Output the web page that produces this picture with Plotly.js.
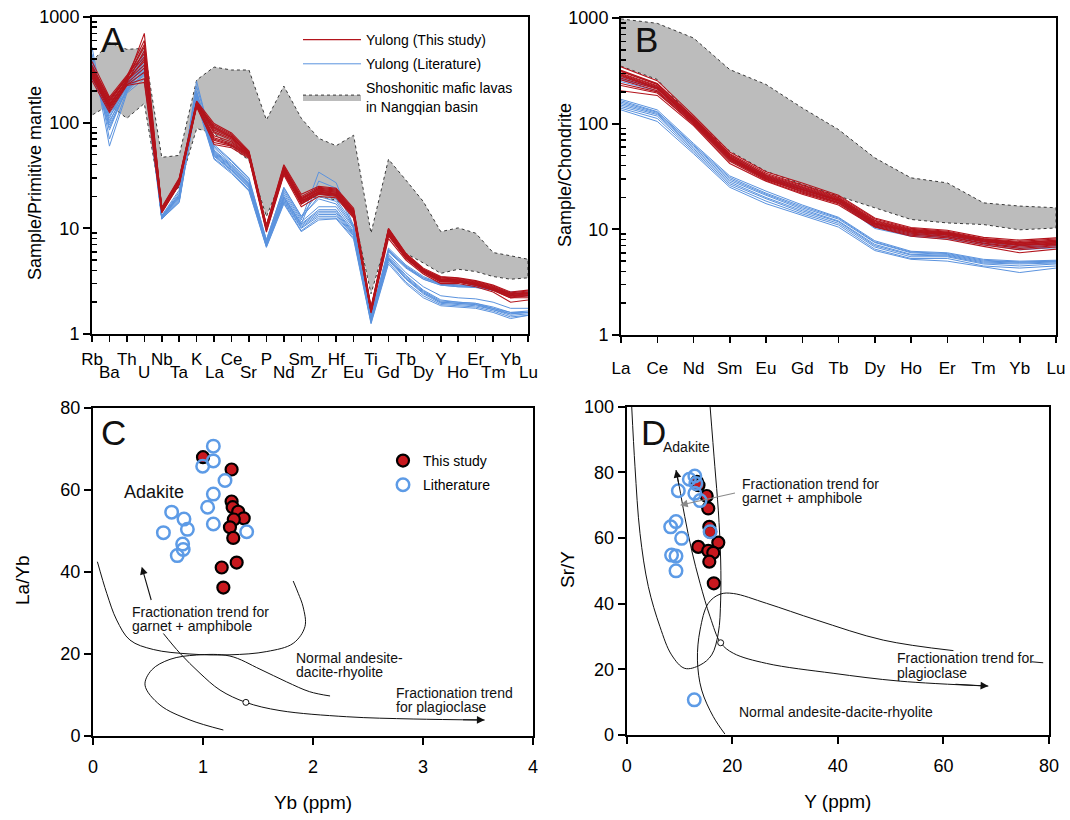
<!DOCTYPE html>
<html><head><meta charset="utf-8">
<script src="https://cdn.plot.ly/plotly-3.0.1.min.js"></script>
<style>html,body{margin:0;padding:0;background:#fff}#chart{width:1070px;height:820px}</style>
</head><body><div id="chart"></div>
<script>
// ---------- Panel A: primitive-mantle normalised spider diagram ----------
const spiderElems = ['Rb','Ba','Th','U','Nb','Ta','K','La','Ce','Sr','P','Nd','Sm','Zr','Hf','Eu','Ti','Gd','Tb','Dy','Y','Ho','Er','Tm','Yb','Lu'];

const spiderThisStudy = [
  [310,150,250,700,15.0,28,150,95,78,52,10.5,38,19,23,22,14.5,1.75,9.8,5.7,4.1,3.4,3.3,3.1,2.8,2.4,2.5],
  [290,140,240,480,14.5,27,148,90,74,50,10.0,36,18,22,21,14.0,1.70,9.4,5.5,4.0,3.3,3.2,3.0,2.7,2.3,2.4],
  [330,160,270,420,15.5,29,155,85,72,51,10.2,37,19,24,23,14.8,1.72,9.6,5.6,4.0,3.3,3.2,3.0,2.7,2.4,2.4],
  [270,130,230,260,14.0,26,140,65,60,47,9.5,33,17,21,20,13.0,1.60,8.5,5.2,3.8,3.1,3.1,2.9,2.6,2.2,2.2],
  [380,175,280,450,15.8,30,160,98,80,54,10.8,40,21,25,24,15.5,1.80,10.0,5.8,4.2,3.5,3.4,3.2,2.9,2.5,2.6],
  [300,145,255,380,15.0,28,152,70,62,49,9.8,34,17.5,22,21,13.5,1.65,8.8,5.3,3.9,3.2,3.1,2.95,2.65,2.3,2.3],
  [250,125,225,240,14.2,26.5,145,62,58,46,9.2,32,16,20,19.5,12.5,1.58,8.0,5.0,3.7,3.0,3.0,2.8,2.5,2.0,2.1],
  [320,155,265,520,15.2,28.5,150,88,73,52,10.3,37,19.5,23.5,22.5,14.3,1.73,9.5,5.5,4.0,3.35,3.25,3.05,2.75,2.35,2.45],
  [350,165,275,600,15.6,29.5,158,92,76,53,10.6,39,20,24.5,23.5,15.0,1.78,9.9,5.7,4.1,3.45,3.35,3.15,2.85,2.45,2.55],
  [280,135,235,330,14.4,27,143,68,61,48,9.6,33.5,17,21.5,20.5,13.2,1.62,8.6,5.2,3.85,3.15,3.1,2.9,2.6,2.25,2.3],
  [300,150,245,400,14.8,27.5,148,80,68,50,10,35.5,18,22.5,21.5,13.8,1.68,9.1,5.4,3.95,3.25,3.2,3.0,2.7,2.3,2.35],
  [265,140,228,300,14.3,26,146,75,66,49,9.7,34,17.5,21,20.5,13.0,1.63,8.9,5.3,3.9,3.2,3.15,2.95,2.6,2.2,2.3],
  [340,170,260,550,15.4,29,154,82,70,51,10.4,36.5,18.5,23,22,14.2,1.71,9.3,5.5,4.0,3.3,3.2,3.05,2.75,2.4,2.45],
  [290,145,250,350,14.9,28,150,72,64,49.5,9.9,35,18,22,21,13.6,1.66,8.9,5.3,3.9,3.2,3.1,2.9,2.65,2.3,2.4]
];

const spiderLiterature = [
  [520,70,200,300,12.5,20,246,55,40,27,7.5,22,12,34,27,10.5,1.45,6.3,4.4,3.4,3.0,2.9,2.9,2.7,2.4,2.4],
  [450,60,190,260,12.2,18,200,52,38,26,7.0,20,11,28,24,10.0,1.40,6.0,4.2,3.3,2.9,2.8,2.8,2.6,2.3,2.3],
  [400,100,230,350,13.0,22,220,60,43,29,7.8,24,13,22,19,10.8,1.48,6.5,4.5,3.5,3.0,2.9,2.85,2.65,2.5,2.5],
  [380,90,210,280,12.8,21,190,58,41,28,7.3,23,12.5,20,18,10.3,1.42,6.1,4.3,3.3,2.9,2.8,2.75,2.6,2.35,2.3],
  [350,110,240,320,13.2,23,180,62,44,30,7.7,24.5,13,19,17,10.0,1.46,6.2,4.3,3.4,2.95,2.85,2.8,2.6,2.4,2.4],
  [300,120,215,380,12.6,19,170,50,36,25,6.9,19,10.5,14,14,8.8,1.35,5.2,3.4,2.5,2.0,1.95,1.9,1.75,1.55,1.6],
  [280,125,220,420,12.4,18,165,48,35,24,6.8,18,10,13,13,8.5,1.32,5.0,3.3,2.4,1.95,1.9,1.85,1.7,1.5,1.55],
  [330,95,205,360,12.9,20,175,53,38,26,7.2,20,11,15,15,9.2,1.38,5.5,3.6,2.6,2.1,2.0,1.95,1.8,1.6,1.65],
  [260,130,225,450,12.3,17.5,160,46,34,23,6.7,17.5,9.5,12.5,12.5,8.2,1.28,4.8,3.1,2.3,1.9,1.85,1.8,1.65,1.45,1.5],
  [310,115,200,330,12.7,19.5,168,49,35.5,24.5,7.0,18.5,10.2,13.5,13.5,8.6,1.33,5.1,3.35,2.45,2.0,1.95,1.9,1.7,1.55,1.6],
  [290,105,195,290,13.1,21,185,51,37,25.5,7.1,19.5,10.8,14.5,14.5,9.0,1.36,5.3,3.5,2.55,2.05,2.0,1.95,1.75,1.6,1.6],
  [270,140,235,480,12.5,18.5,155,45,33,22.5,6.6,17,9.3,12,12.3,7.9,1.25,4.6,3.0,2.2,1.85,1.8,1.75,1.6,1.4,1.5],
  [340,85,215,310,12.8,20.5,178,54,39,26.5,7.3,21,11.5,16,16,9.5,1.40,5.7,3.8,2.8,2.3,2.2,2.15,2.0,1.75,1.75]
];

// Shoshonitic mafic lavas envelope (upper / lower)
const spiderFieldUpper = [378,572,494,505,47,49,253,336,315,315,106,222,110,71,60.5,76,9.0,45,28.6,17.9,9.3,10.1,9.0,5.9,5.5,5.1];
const spiderFieldLower = [118,147,110,152,16,24.7,88,79,59,44,12.9,33,18.5,20,18.5,13.9,2.4,9,5.8,4.7,3.75,4.1,3.9,3.5,3.3,3.4];

// ---------- Panel B: chondrite-normalised REE ----------
const reeElems = ['La','Ce','Nd','Sm','Eu','Gd','Tb','Dy','Ho','Er','Tm','Yb','Lu'];

const reeThisStudy = [
  [345,255,120,54,35,27.5,21,12.8,10.4,9.8,8.4,7.9,8.3],
  [310,235,112,50,33,26,20,12.2,10,9.4,8.1,7.5,7.9],
  [300,228,110,49,32,25,19.5,11.8,9.8,9.2,8,7.4,7.7],
  [290,220,108,48,31,24,19,11.5,9.6,9,7.8,7.2,7.5],
  [280,215,105,47,30,23.5,18.5,11.2,9.4,8.8,7.6,7.0,7.3],
  [260,205,102,46,29.5,23,18,11,9.2,8.6,7.4,6.8,7.1],
  [240,200,98,44,29,22,17.5,10.6,8.8,8.3,7.1,6.4,6.8],
  [205,185,96,42,28.5,21.5,17,10.5,8.6,8.0,6.9,6.0,6.5],
  [230,195,100,45,30,22.5,17.8,10.8,9.0,8.5,7.3,6.6,7.0],
  [320,240,115,52,34,26.5,20.5,12.5,10.2,9.6,8.2,7.7,8.1],
  [295,225,109,48.5,31.5,24.5,19.2,11.6,9.7,9.1,7.9,7.3,7.6],
  [270,212,104,47,30.5,24,18.8,11.3,9.5,8.9,7.7,7.1,7.4],
  [285,218,106,47.5,31,23.8,18.6,11.4,9.5,8.9,7.7,7.1,7.2],
  [315,238,114,51,32.5,25.5,19.8,12.0,9.9,9.3,8.0,7.5,7.8]
];

const reeLiterature = [
  [275,222,112,49,32,25,19,11,9.2,8.8,7.8,7.0,7.2],
  [260,215,108,47,31,24,18.5,10.5,8.8,8.4,7.4,6.6,6.8],
  [250,205,103,45,30,23,18,10.2,8.6,8.1,7.2,6.4,6.7],
  [265,218,110,48,31.5,24.5,18.8,10.8,9.0,8.6,7.6,6.8,7.0],
  [170,135,65,32,23,17,13,7.8,6.2,6.0,5.2,5.0,5.1],
  [160,128,62,30,21.5,16,12.5,7.5,6.0,5.8,5.0,4.9,5.0],
  [155,125,60,29,21,15.5,12,7.2,5.8,5.7,4.9,4.8,4.9],
  [150,122,58,28,20,15,11.8,7.0,5.7,5.6,4.8,4.7,4.8],
  [145,118,56,27,19.5,14.5,11.4,6.8,5.5,5.5,4.7,4.5,4.7],
  [140,112,54,26,18.5,14,11,6.5,5.3,5.3,4.5,4.3,4.5],
  [135,105,52,25,17.5,13.5,10.5,6.3,5.2,5.0,4.4,3.9,4.3],
  [165,130,63,31,22,16.5,12.8,7.6,6.1,5.9,5.1,4.9,5.0]
];

const reeFieldUpper = [980,890,647,325,235,141,88,47.5,30.7,27.5,17.8,16.6,16];
const reeFieldLower = [350,262,110,55,35.5,26.6,20.6,16,12.4,11.5,11.1,9.9,10.3];

// ---------- Panel C: La/Yb vs Yb ----------
const cStudyYb   = [1.0,1.26,1.26,1.27,1.32,1.37,1.28,1.245,1.275,1.306,1.17,1.185];
const cStudyLaYb = [68.0,65.0,57.2,55.8,54.7,53.1,52.8,50.9,48.3,42.3,41.1,36.2];
const cLitYb     = [1.094,1.094,0.997,1.2,1.094,1.042,0.715,0.827,0.858,1.094,1.397,0.64,0.815,0.82,0.766];
const cLitLaYb   = [70.7,67.1,65.8,62.3,59.0,55.8,54.6,52.9,50.4,51.7,49.8,49.6,46.8,45.5,44.0];

const cAdakiteX = [0.04,0.125,0.215,0.336,0.548,0.882,1.245,1.58,1.82,1.927,1.91,1.866,1.82];
const cAdakiteY = [42.5,34.8,28.3,23.4,21.1,20.0,19.8,20.6,22.6,26.7,31.5,34.8,37.8];
const cNormalX  = [1.185,0.882,0.609,0.473,0.533,0.7,0.942,1.245,1.518,1.76,1.97,2.155];
const cNormalY  = [1.46,3.9,7.56,12.4,16.1,18.7,19.75,19.5,16.3,13.2,10.8,9.76];
const cTrendX   = [0.64,0.79,0.973,1.155,1.39,1.7,2.306,2.91,3.56];
const cTrendY   = [25.0,20.2,15.3,11.2,8.2,6.2,4.7,4.15,3.9];
const cOrigin   = [1.39, 8.2];

// ---------- Panel D: Sr/Y vs Y ----------
const dStudyY   = [13.3,13.6,15.15,15.45,15.65,15.8,13.56,17.35,15.45,16.4,15.65,16.5];
const dStudySrY = [77.1,76.1,72.8,69.0,63.4,61.9,57.3,58.6,56.1,55.5,52.8,46.2];
const dLitY     = [12.9,11.86,13.1,12.9,9.78,13.9,9.34,8.33,10.4,15.8,8.5,9.34,9.34,12.8];
const dLitSrY   = [78.9,77.9,76.6,73.6,74.4,71.4,65.0,63.4,59.9,61.9,54.8,54.5,50.0,10.7];

const dAdakiteX = [0.95,1.57,2.52,4.1,6.3,8.5,11.0,13.9,16.1,17.35,17.8,17.8,17.35,16.7,15.8];
const dAdakiteY = [100,81.7,61.4,45.2,33.0,24.4,20.3,21.3,24.4,31.0,41.1,53.3,68.5,81.7,100];
const dNormalX  = [18.6,16.4,14.2,13.4,13.9,15.45,17.7,20.2,26.5,36.0,48.6,61.9];
const dNormalY  = [0.3,5.6,13.7,22.8,32.0,40.1,42.9,43.1,40.1,35.0,28.9,25.7];
const dNormalTailX = [76.7,78.9];
const dNormalTailY = [22.3,22.0];
const dTrendX   = [9.34,9.97,11.0,12.3,13.9,15.8,17.8,20.2,26.5,39.1,51.8,68.5];
const dTrendY   = [80.7,75.6,66.5,56.3,46.2,36.0,28.1,24.9,21.8,18.8,16.4,14.9];
const dOrigin   = [17.8, 28.1];

// ---------- styling ----------
const FONT = 'Liberation Sans, Arial, Helvetica, sans-serif';
const RED = '#b3141c';
const BLUE = '#5b93de';
const GREY = '#bcbcbc';
const DOT_RED = '#c8181e';
const RING_BLUE = '#5d9be6';

const traces = [];

function spiderTraces(elems, study, lit, upper, lower, xa, ya, withLegend) {
  const idx = elems.map((_, i) => i);
  traces.push({
    x: idx.concat(idx.slice().reverse()),
    y: upper.concat(lower.slice().reverse()),
    xaxis: xa, yaxis: ya, mode: 'lines', fill: 'toself', fillcolor: GREY,
    line: {color: '#3a3a3a', width: 1, dash: 'dot'},
    name: 'Shoshonitic mafic lavas<br>in Nangqian basin', legendgroup: 'field' + xa,
    showlegend: withLegend, legend: 'legend', legendrank: 3, hoverinfo: 'skip'
  });
  lit.forEach((row, k) => traces.push({
    x: idx, y: row, xaxis: xa, yaxis: ya, mode: 'lines',
    line: {color: BLUE, width: 1},
    name: 'Yulong (Literature)', legendgroup: 'lit' + xa,
    showlegend: withLegend && k === 0, legend: 'legend', legendrank: 2
  }));
  study.forEach((row, k) => traces.push({
    x: idx, y: row, xaxis: xa, yaxis: ya, mode: 'lines',
    line: {color: RED, width: 1.1},
    name: 'Yulong (This study)', legendgroup: 'study' + xa,
    showlegend: withLegend && k === 0, legend: 'legend', legendrank: 1
  }));
}

spiderTraces(spiderElems, spiderThisStudy, spiderLiterature, spiderFieldUpper, spiderFieldLower, 'x', 'y', true);
spiderTraces(reeElems, reeThisStudy, reeLiterature, reeFieldUpper, reeFieldLower, 'x2', 'y2', false);

function curve(x, y, xa, ya) {
  traces.push({x, y, xaxis: xa, yaxis: ya, mode: 'lines', line: {color: '#111', width: 1, shape: 'spline', smoothing: 1},
    showlegend: false, hoverinfo: 'skip'});
}
curve(cAdakiteX, cAdakiteY, 'x3', 'y3');
curve(cNormalX, cNormalY, 'x3', 'y3');
curve(cTrendX, cTrendY, 'x3', 'y3');
curve(dAdakiteX, dAdakiteY, 'x4', 'y4');
curve(dNormalX, dNormalY, 'x4', 'y4');
curve(dNormalTailX, dNormalTailY, 'x4', 'y4');
curve(dTrendX, dTrendY, 'x4', 'y4');

[[cOrigin, 'x3', 'y3'], [dOrigin, 'x4', 'y4']].forEach(([p, xa, ya]) => traces.push({
  x: [p[0]], y: [p[1]], xaxis: xa, yaxis: ya, mode: 'markers',
  marker: {symbol: 'circle', size: 6, color: '#fff', line: {color: '#111', width: 1}},
  showlegend: false, hoverinfo: 'skip'
}));

const studyMarker = {symbol: 'circle', size: 12, color: DOT_RED, line: {color: '#000', width: 2.2}};
const litMarker = {symbol: 'circle-open', size: 12.5, color: RING_BLUE, line: {color: RING_BLUE, width: 2.5}};

traces.push({x: cStudyYb, y: cStudyLaYb, xaxis: 'x3', yaxis: 'y3', mode: 'markers', marker: studyMarker,
  name: 'This study', legend: 'legend2', legendgroup: 'cs', legendrank: 1});
traces.push({x: cLitYb, y: cLitLaYb, xaxis: 'x3', yaxis: 'y3', mode: 'markers', marker: litMarker,
  name: 'Litherature', legend: 'legend2', legendgroup: 'cl', legendrank: 2});
traces.push({x: dStudyY, y: dStudySrY, xaxis: 'x4', yaxis: 'y4', mode: 'markers', marker: studyMarker, showlegend: false});
traces.push({x: dLitY, y: dLitSrY, xaxis: 'x4', yaxis: 'y4', mode: 'markers', marker: litMarker, showlegend: false});

// ---------- axes ----------
const W = 1070, H = 820;
const dx = (a, b) => [a / W, b / W];
const dy = (top, bottom) => [1 - bottom / H, 1 - top / H];

const minorLog = [];
[1, 10, 100].forEach(d => { for (let m = 2; m <= 9; m++) minorLog.push(m * d); });

const axisBase = {
  showline: true, linecolor: '#000', linewidth: 2, mirror: true,
  showgrid: false, zeroline: false, ticks: 'outside', tickcolor: '#000',
  tickfont: {family: FONT, size: 18, color: '#000'}
};

function logY(domain) {
  return Object.assign({}, axisBase, {
    domain, type: 'log', range: [0, 3], tickmode: 'array',
    tickvals: [1, 10, 100, 1000], ticktext: ['1', '10', '100', '1000'],
    ticklen: 7, tickwidth: 2,
    minor: {tickvals: minorLog, ticks: 'inside', ticklen: 5, tickwidth: 1.5, tickcolor: '#000'}
  });
}

// top-row labels on the axis; the alternate elements are written one row lower
function catX(domain, elems, staggered) {
  return Object.assign({}, axisBase, {
    domain, range: [0, elems.length - 1], tickmode: 'array', tickangle: 0,
    tickvals: elems.map((_, i) => i),
    ticktext: elems.map((e, i) => (staggered && i % 2) ? '' : e),
    ticklen: 6, tickwidth: 1.5, tickfont: {family: FONT, size: 17, color: '#000'}
  });
}

const layout = {
  width: W, height: H, margin: {l: 0, r: 0, t: 0, b: 0},
  paper_bgcolor: '#fff', plot_bgcolor: '#fff',
  font: {family: FONT, color: '#000'},
  xaxis:  Object.assign(catX(dx(92, 528), spiderElems, true), {anchor: 'y', ticklabelstandoff: 3}),
  yaxis:  Object.assign(logY(dy(17, 334)), {anchor: 'x'}),
  xaxis2: Object.assign(catX(dx(621, 1056), reeElems, false), {anchor: 'y2', ticklabelstandoff: 11}),
  yaxis2: Object.assign(logY(dy(18, 335)), {anchor: 'x2'}),
  xaxis3: Object.assign({}, axisBase, {domain: dx(93, 533), anchor: 'y3', range: [0, 4], tickvals: [0, 1, 2, 3, 4],
    ticklen: 7, tickwidth: 2, ticklabelstandoff: 6,
    title: {text: 'Yb (ppm)', font: {family: FONT, size: 19}, standoff: 20}}),
  yaxis3: Object.assign({}, axisBase, {domain: dy(408, 736), anchor: 'x3', range: [0, 80], tickvals: [0, 20, 40, 60, 80],
    ticklen: 7, tickwidth: 2}),
  xaxis4: Object.assign({}, axisBase, {domain: dx(626.7, 1049), anchor: 'y4', range: [0, 80], tickvals: [0, 20, 40, 60, 80],
    ticklen: 7, tickwidth: 2, ticklabelstandoff: 6,
    title: {text: 'Y (ppm)', font: {family: FONT, size: 19}, standoff: 20}}),
  yaxis4: Object.assign({}, axisBase, {domain: dy(406.7, 735), anchor: 'x4', range: [0, 100], tickvals: [0, 20, 40, 60, 80, 100],
    ticklen: 7, tickwidth: 2}),
  legend: {x: 298 / W, y: 1 - 24 / H, xanchor: 'left', yanchor: 'top', bgcolor: 'rgba(0,0,0,0)',
    font: {family: FONT, size: 14}, itemwidth: 58, traceorder: 'grouped', tracegroupgap: 3},
  legend2: {x: 383 / W, y: 1 - 445 / H, xanchor: 'left', yanchor: 'top', bgcolor: 'rgba(0,0,0,0)',
    font: {family: FONT, size: 14}, itemwidth: 30, traceorder: 'grouped', tracegroupgap: 3},
  showlegend: true,
  annotations: []
};

const A = layout.annotations;

// second row of panel-A element labels
spiderElems.forEach((e, i) => {
  if (i % 2) A.push({text: e, xref: 'x', yref: 'paper', x: i, y: 1 - 373 / H, showarrow: false,
    xanchor: 'center', yanchor: 'middle', font: {family: FONT, size: 17, color: '#000'}});
});

function yTitle(t, px, py) {
  A.push({text: t, xref: 'paper', yref: 'paper', x: px / W, y: 1 - py / H, showarrow: false, textangle: -90,
    xanchor: 'center', yanchor: 'middle', font: {family: FONT, size: 18, color: '#000'}});
}
yTitle('Sample/Primitive mantle', 35, 183);
yTitle('Sample/Chondrite', 565, 175);
A.push({text: 'La/Yb', xref: 'paper', yref: 'paper', x: 22 / W, y: 1 - 580 / H, showarrow: false, textangle: -90,
  xanchor: 'center', yanchor: 'middle', font: {family: FONT, size: 19, color: '#000'}});
A.push({text: 'Sr/Y', xref: 'paper', yref: 'paper', x: 567 / W, y: 1 - 570 / H, showarrow: false, textangle: -90,
  xanchor: 'center', yanchor: 'middle', font: {family: FONT, size: 19, color: '#000'}});

function panelLetter(t, px, py) {
  A.push({text: t, xref: 'paper', yref: 'paper', x: px / W, y: 1 - py / H, showarrow: false,
    font: {family: FONT, size: 35, color: '#111'}, xanchor: 'center', yanchor: 'middle'});
}
panelLetter('A', 113, 39);
panelLetter('B', 646, 39);
panelLetter('C', 113, 432);
panelLetter('D', 653, 432);

function label(t, x, y, xa, ya, size) {
  A.push({text: t, xref: xa, yref: ya, x, y, showarrow: false, xanchor: 'left', yanchor: 'middle',
    font: {family: FONT, size: size || 14, color: '#111'}});
}
label('Adakite', 0.261, 59.5, 'x3', 'y3', 18);
label('Fractionation trend for', 0.336, 30.3, 'x3', 'y3');
label('garnet + amphibole', 0.336, 26.9, 'x3', 'y3');
label('Normal andesite-', 1.827, 19.1, 'x3', 'y3');
label('dacite-rhyolite', 1.827, 15.7, 'x3', 'y3');
label('Fractionation trend', 2.739, 10.4, 'x3', 'y3');
label('for plagioclase', 2.739, 7.0, 'x3', 'y3');

label('Adakite', 6.5, 87.6, 'x4', 'y4');
label('Fractionation trend for', 21.46, 76.6, 'x4', 'y4');
label('garnet + amphibole', 21.46, 72.3, 'x4', 'y4');
label('Fractionation trend for', 50.76, 23.4, 'x4', 'y4');
label('plagioclase', 50.76, 19.0, 'x4', 'y4');
label('Normal andesite-dacite-rhyolite', 20.95, 6.9, 'x4', 'y4');

function arrow(x, y, ax, ay, xa, ya, color) {
  A.push({text: '', x, y, ax, ay, xref: xa, yref: ya, axref: xa, ayref: ya, showarrow: true,
    arrowhead: 2, arrowsize: 1.4, arrowwidth: 1.1, arrowcolor: color || '#111', standoff: 0});
}
arrow(0.443, 41.3, 0.533, 32.8, 'x3', 'y3');
arrow(3.56, 3.9, 3.35, 3.95, 'x3', 'y3');
arrow(9.34, 80.7, 9.97, 75.6, 'x4', 'y4');
arrow(68.5, 14.9, 62, 15.5, 'x4', 'y4');
arrow(10.1, 70.0, 20.8, 73.8, 'x4', 'y4', '#8a8a8a');

Plotly.newPlot('chart', traces, layout, {displayModeBar: false, staticPlot: true});
</script></body></html>
